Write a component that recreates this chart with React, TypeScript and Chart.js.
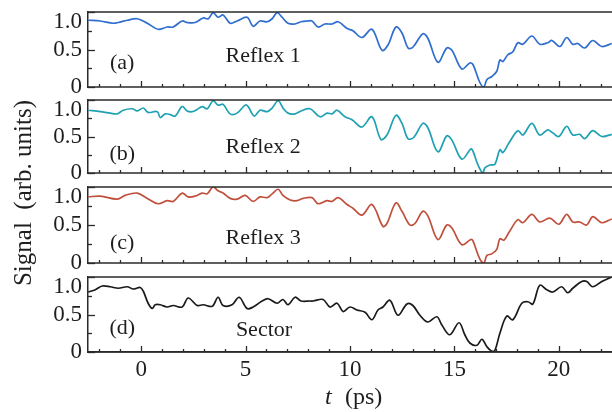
import React, { useEffect, useRef } from 'react';
import { Chart, registerables } from 'chart.js';

Chart.register(...registerables);

const FONT = "'Liberation Serif', 'DejaVu Serif', serif";
const AXIS = '#2a2a2a';
const TEXT = '#1e1e1e';

// ---- axes ----
const xMin = -2.55;
const xMax = 22.55;
const xMajorTicks = [0, 5, 10, 15, 20];
const xMinorTicks = [-2, -1, 1, 2, 3, 4, 6, 7, 8, 9, 11, 12, 13, 14, 16, 17, 18, 19, 21, 22];
const yMajorTicks = [0, 0.5, 1.0];
const yMinorTicks = [0.25, 0.75];
const yTickLabels = ['0', '0.5', '1.0'];

// ---- panel labels ----
const panelLetters = ['(a)', '(b)', '(c)', '(d)'];
const panelNames = ['Reflex 1', 'Reflex 2', 'Reflex 3', 'Sector'];
const seriesColors = ['#2f6ecf', '#1ea2b3', '#c0503c', '#1a1a1a'];

// ---- data: t (ps) and normalised signal ----
const reflex1T = [-2.54, -1.96, -1.34, -1.1, -0.67, -0.19, 0.29, 0.81, 1.24, 1.53, 1.96, 2.2, 2.58, 2.97, 3.21, 3.44, 3.68, 3.92, 4.26, 4.59, 5.07, 5.36, 5.69, 6.03, 6.27, 6.51, 6.75, 7.03, 7.37, 7.65, 7.94, 8.18, 8.47, 8.8, 9.14, 9.43, 9.86, 10.14, 10.57, 11.05, 11.53, 11.82, 12.2, 12.49, 12.78, 13.01, 13.49, 13.73, 14.21, 14.64, 14.88, 15.36, 15.74, 15.89, 16.22, 16.41, 16.56, 16.79, 17.03, 17.18, 17.32, 17.56, 17.8, 18.04, 18.28, 18.71, 19.09, 19.47, 19.67, 20.05, 20.38, 20.67, 20.91, 21.24, 21.63, 22.06, 22.54];
const reflex1 = [0.89, 0.88, 0.85, 0.86, 0.89, 0.91, 0.85, 0.77, 0.8, 0.8, 0.88, 0.86, 0.86, 0.92, 0.91, 0.99, 0.93, 0.96, 0.85, 0.88, 0.93, 0.81, 0.88, 0.87, 0.91, 0.99, 0.93, 0.85, 0.84, 0.87, 0.88, 0.88, 0.8, 0.84, 0.84, 0.87, 0.78, 0.75, 0.66, 0.77, 0.49, 0.56, 0.8, 0.72, 0.52, 0.53, 0.71, 0.65, 0.33, 0.52, 0.49, 0.24, 0.32, 0.3, 0.06, 0.0, 0.1, 0.14, 0.21, 0.36, 0.34, 0.43, 0.47, 0.59, 0.57, 0.68, 0.57, 0.59, 0.62, 0.54, 0.66, 0.57, 0.58, 0.52, 0.62, 0.54, 0.58];

const reflex2T = [-2.54, -1.96, -1.48, -1.15, -0.86, -0.43, -0.19, 0.1, 0.33, 0.77, 0.91, 1.15, 1.39, 1.63, 1.96, 2.2, 2.44, 2.68, 2.92, 3.16, 3.44, 3.68, 3.92, 4.26, 4.59, 4.98, 5.12, 5.41, 5.69, 6.03, 6.27, 6.56, 6.79, 7.03, 7.37, 7.66, 8.09, 8.56, 8.9, 9.14, 9.38, 9.76, 10.1, 10.57, 11.05, 11.48, 11.77, 12.2, 12.49, 12.78, 13.06, 13.49, 13.73, 14.21, 14.64, 14.88, 15.36, 15.79, 15.89, 16.13, 16.36, 16.46, 16.7, 16.94, 17.18, 17.32, 17.61, 18.04, 18.28, 18.71, 19.09, 19.47, 19.71, 20.0, 20.38, 20.67, 21.0, 21.24, 21.63, 22.06, 22.54];
const reflex2 = [0.86, 0.84, 0.82, 0.81, 0.86, 0.88, 0.85, 0.89, 0.83, 0.84, 0.76, 0.81, 0.8, 0.78, 0.91, 0.85, 0.84, 0.87, 0.91, 0.88, 0.99, 0.93, 0.94, 0.81, 0.82, 0.93, 0.91, 0.78, 0.86, 0.84, 0.89, 0.99, 0.89, 0.82, 0.81, 0.85, 0.88, 0.77, 0.82, 0.81, 0.86, 0.77, 0.73, 0.63, 0.77, 0.46, 0.52, 0.79, 0.68, 0.47, 0.49, 0.68, 0.62, 0.29, 0.51, 0.45, 0.19, 0.33, 0.3, 0.11, 0.0, 0.07, 0.11, 0.12, 0.32, 0.28, 0.41, 0.58, 0.52, 0.68, 0.52, 0.59, 0.55, 0.5, 0.64, 0.52, 0.53, 0.47, 0.58, 0.5, 0.53];

const reflex3T = [-2.54, -1.96, -1.15, -0.77, -0.19, 0.29, 0.81, 1.24, 1.53, 1.96, 2.25, 2.58, 2.92, 3.16, 3.44, 3.68, 3.92, 4.26, 4.59, 4.98, 5.36, 5.69, 6.03, 6.27, 6.56, 6.79, 7.13, 7.46, 7.75, 8.18, 8.47, 8.9, 9.14, 9.43, 9.86, 10.14, 10.57, 11.05, 11.58, 11.77, 12.2, 12.49, 12.87, 13.11, 13.49, 13.73, 14.21, 14.64, 14.88, 15.36, 15.79, 15.89, 16.22, 16.41, 16.56, 16.79, 17.03, 17.18, 17.37, 17.61, 18.04, 18.28, 18.71, 19.09, 19.57, 20.0, 20.38, 20.67, 21.0, 21.34, 21.63, 22.06, 22.54];
const reflex3 = [0.87, 0.88, 0.84, 0.89, 0.92, 0.85, 0.78, 0.82, 0.81, 0.92, 0.87, 0.88, 0.92, 0.91, 1.0, 0.95, 0.92, 0.85, 0.84, 0.89, 0.81, 0.87, 0.86, 0.91, 0.97, 0.89, 0.83, 0.82, 0.85, 0.86, 0.78, 0.82, 0.81, 0.86, 0.77, 0.72, 0.63, 0.77, 0.48, 0.52, 0.79, 0.68, 0.5, 0.52, 0.68, 0.62, 0.31, 0.5, 0.46, 0.24, 0.31, 0.29, 0.05, 0.0, 0.1, 0.12, 0.18, 0.32, 0.3, 0.4, 0.57, 0.53, 0.64, 0.54, 0.59, 0.51, 0.64, 0.54, 0.54, 0.5, 0.61, 0.53, 0.58];

const sectorT = [-2.54, -2.2, -1.87, -1.48, -1.1, -0.67, -0.38, -0.05, 0.1, 0.33, 0.53, 0.67, 0.91, 1.24, 1.53, 1.96, 2.25, 2.68, 2.97, 3.4, 3.68, 3.92, 4.35, 4.69, 5.07, 5.36, 5.79, 6.08, 6.51, 6.79, 7.03, 7.37, 7.65, 8.09, 8.23, 8.71, 9.04, 9.38, 9.67, 10.0, 10.33, 10.72, 11.05, 11.34, 11.58, 11.91, 12.3, 12.73, 13.01, 13.35, 13.73, 14.16, 14.4, 14.78, 15.22, 15.5, 15.74, 16.08, 16.32, 16.56, 16.79, 16.94, 17.18, 17.51, 17.8, 18.23, 18.52, 18.76, 19.09, 19.43, 19.71, 20.14, 20.43, 20.67, 21.1, 21.34, 21.63, 22.06, 22.54];
const sector = [0.8, 0.83, 0.88, 0.87, 0.85, 0.87, 0.84, 0.86, 0.81, 0.65, 0.58, 0.63, 0.63, 0.6, 0.62, 0.6, 0.72, 0.62, 0.63, 0.61, 0.73, 0.62, 0.63, 0.73, 0.58, 0.6, 0.68, 0.71, 0.65, 0.7, 0.63, 0.73, 0.68, 0.68, 0.68, 0.7, 0.6, 0.65, 0.54, 0.6, 0.56, 0.53, 0.43, 0.56, 0.6, 0.69, 0.49, 0.64, 0.62, 0.49, 0.4, 0.47, 0.36, 0.23, 0.39, 0.23, 0.12, 0.09, 0.17, 0.07, 0.01, 0.02, 0.25, 0.48, 0.43, 0.65, 0.67, 0.64, 0.89, 0.83, 0.8, 0.87, 0.79, 0.85, 0.94, 0.94, 0.87, 0.94, 1.0];

// label anchor positions in data units: [t, signal]
const letterAnchors = [[-0.91, 0.32], [-0.91, 0.26], [-0.91, 0.26], [-0.91, 0.32]];
const nameAnchors = [[5.84, 0.41], [5.84, 0.35], [5.84, 0.33], [5.88, 0.29]];

const panelIds = ['y1', 'y2', 'y3', 'y4'];
const panelWeights = [75, 73, 76, 75];
const gapWeights = [13, 14, 14];

const seriesT = [reflex1T, reflex2T, reflex3T, sectorT];
const seriesV = [reflex1, reflex2, reflex3, sector];

const seg = (ctx: CanvasRenderingContext2D, x1: number, y1: number, x2: number, y2: number) => {
  ctx.beginPath();
  ctx.moveTo(x1, y1);
  ctx.lineTo(x2, y2);
  ctx.stroke();
};

const framePlugin = {
  id: 'panelFrames',
  afterDatasetsDraw(chart: any) {
    const { ctx } = chart;
    const xs = chart.scales.x;
    ctx.save();
    ctx.strokeStyle = AXIS;
    ctx.lineWidth = 1.5;
    panelIds.forEach((id) => {
      const ys = chart.scales[id];
      seg(ctx, xs.left, ys.top, xs.right, ys.top);
      seg(ctx, xs.left, ys.bottom, xs.right, ys.bottom);
      ctx.lineWidth = 1.3;
      xMajorTicks.forEach((v) => {
        const p = Math.round(xs.getPixelForValue(v)) + 0.5;
        seg(ctx, p, ys.bottom, p, ys.bottom - 6);
      });
      xMinorTicks.forEach((v) => {
        const p = Math.round(xs.getPixelForValue(v)) + 0.5;
        seg(ctx, p, ys.bottom, p, ys.bottom - 3);
      });
      yMajorTicks.forEach((v) => {
        const p = Math.round(ys.getPixelForValue(v)) + 0.5;
        seg(ctx, xs.left, p, xs.left + 7, p);
      });
      yMinorTicks.forEach((v) => {
        const p = Math.round(ys.getPixelForValue(v)) + 0.5;
        seg(ctx, xs.left, p, xs.left + 4, p);
      });
      ctx.lineWidth = 1.5;
    });
    ctx.restore();
  },
  afterDraw(chart: any) {
    const { ctx } = chart;
    const xs = chart.scales.x;
    ctx.save();
    ctx.fillStyle = TEXT;
    ctx.textAlign = 'center';
    ctx.textBaseline = 'middle';
    ctx.font = `22px ${FONT}`;
    panelIds.forEach((id, i) => {
      const ys = chart.scales[id];
      ctx.fillText(panelLetters[i], xs.getPixelForValue(letterAnchors[i][0]), ys.getPixelForValue(letterAnchors[i][1]));
      ctx.fillText(panelNames[i], xs.getPixelForValue(nameAnchors[i][0]), ys.getPixelForValue(nameAnchors[i][1]));
    });
    // y title
    ctx.save();
    ctx.translate(24, 193);
    ctx.rotate(-Math.PI / 2);
    ctx.font = `25px ${FONT}`;
    ctx.fillText('Signal  (arb. units)', 0, 0);
    ctx.restore();
    // x title
    ctx.textAlign = 'left';
    ctx.font = `italic 24px ${FONT}`;
    ctx.fillText('t', 325, 398);
    ctx.font = `24px ${FONT}`;
    ctx.fillText('(ps)', 345, 398);
    ctx.restore();
  },
};

export default function App() {
  const ref = useRef<HTMLCanvasElement | null>(null);
  useEffect(() => {
    if (!ref.current) return;
    const tickFont = { family: FONT, size: 23, lineHeight: 0.85 };
    const scales: any = {
      x: {
        type: 'linear',
        position: 'bottom',
        min: xMin,
        max: xMax,
        grid: { display: false, drawTicks: false },
        border: { display: true, color: AXIS, width: 1.5 },
        afterBuildTicks: (s: any) => {
          s.ticks = xMajorTicks.map((v) => ({ value: v }));
        },
        afterFit: (s: any) => {
          s.height = 60;
          s.paddingLeft = 0;
          s.paddingRight = 0;
        },
        ticks: {
          autoSkip: false,
          maxRotation: 0,
          padding: 4,
          color: TEXT,
          font: { family: FONT, size: 23 },
          callback: (v: any) => String(v),
        },
      },
    };
    let w = 10;
    panelIds.forEach((id, i) => {
      scales[id] = {
        type: 'linear',
        position: 'left',
        stack: 'panels',
        stackWeight: panelWeights[i],
        weight: w--,
        min: 0,
        max: 1.0,
        grid: { display: false, drawTicks: false },
        border: { display: true, color: AXIS, width: 1.5 },
        afterBuildTicks: (s: any) => {
          s.ticks = yMajorTicks.map((v) => ({ value: v }));
        },
        afterFit: (s: any) => {
          s.width = 88;
          s.paddingTop = 0;
          s.paddingBottom = 0;
        },
        ticks: {
          autoSkip: false,
          padding: 6,
          color: TEXT,
          font: tickFont,
          callback: (v: any) => {
            const idx = yMajorTicks.indexOf(v);
            const lbl = idx >= 0 ? yTickLabels[idx] : '';
            return idx === yMajorTicks.length - 1 ? ['', lbl] : lbl;
          },
        },
      };
      if (i < gapWeights.length) {
        scales['g' + (i + 1)] = {
          type: 'linear',
          position: 'left',
          stack: 'panels',
          stackWeight: gapWeights[i],
          weight: w--,
          display: true,
          grid: { display: false, drawTicks: false },
          border: { display: false },
          ticks: { display: false },
          afterFit: (s: any) => {
            s.paddingTop = 0;
            s.paddingBottom = 0;
          },
        };
      }
    });

    const datasets = panelIds.map((id, i) => ({
      label: panelNames[i],
      yAxisID: id,
      xAxisID: 'x',
      data: seriesT[i].map((t, k) => ({ x: t, y: seriesV[i][k] })),
      borderColor: seriesColors[i],
      borderWidth: 1.7,
      pointRadius: 0,
      tension: 0.35,
      fill: false,
    }));

    const chart = new Chart(ref.current, {
      type: 'line',
      data: { datasets },
      options: {
        animation: false,
        responsive: false,
        devicePixelRatio: 1,
        parsing: false as any,
        layout: { padding: { top: 12, left: 0, right: 0, bottom: 0 } },
        plugins: { legend: { display: false }, tooltip: { enabled: false } },
        scales,
      },
      plugins: [framePlugin],
    } as any);
    return () => chart.destroy();
  }, []);

  return (
    <div style={{ position: 'fixed', left: 0, top: 0, width: 612, height: 412, background: '#fff' }}>
      <canvas ref={ref} width={612} height={412} style={{ width: 612, height: 412 }} />
    </div>
  );
}
